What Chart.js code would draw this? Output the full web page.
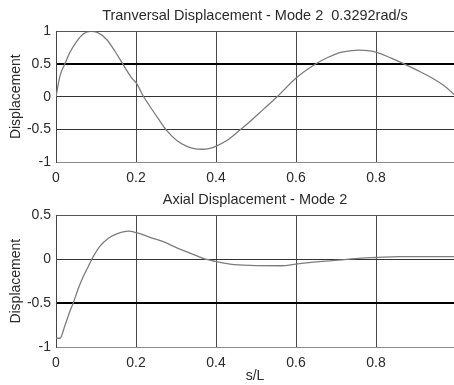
<!DOCTYPE html>
<html>
<head>
<meta charset="utf-8">
<script src="https://cdn.jsdelivr.net/npm/chart.js@4"></script>
<style>
  html, body { margin: 0; padding: 0; background: #fff; }
  #wrap { position: relative; width: 454px; height: 385px; overflow: hidden; }
  canvas { position: absolute; left: 0; }
  #top { top: 0; }
  #bottom { top: 184px; }
</style>
</head>
<body>
<div id="wrap">
  <canvas id="top" width="454" height="184"></canvas>
  <canvas id="bottom" width="454" height="201"></canvas>
</div>
<script>
// Mode shape samples along the member (s/L) and their displacements
const transS = [0, 0.01, 0.022, 0.034, 0.051, 0.068, 0.087, 0.103, 0.126, 0.147, 0.168, 0.189, 0.203,
  0.218, 0.235, 0.256, 0.277, 0.302, 0.327, 0.345, 0.365, 0.385, 0.399, 0.427, 0.46, 0.485, 0.519, 0.553,
  0.601, 0.649, 0.679, 0.712, 0.74, 0.758, 0.78, 0.802, 0.838, 0.871, 0.905, 0.939, 0.972, 0.995];
const transDisp = [0, 0.32, 0.50, 0.67, 0.84, 0.96, 1.0, 0.985, 0.88, 0.70, 0.49, 0.29, 0.19,
  0.01, -0.15, -0.34, -0.52, -0.67, -0.76, -0.795, -0.805, -0.79, -0.76, -0.67, -0.51, -0.38, -0.19, 0.0,
  0.29, 0.50, 0.60, 0.68, 0.705, 0.712, 0.705, 0.68, 0.59, 0.50, 0.40, 0.29, 0.16, 0.035];

const axialS = [0, 0.01, 0.022, 0.035, 0.043, 0.056, 0.068, 0.081, 0.093, 0.11, 0.131, 0.152, 0.181,
  0.203, 0.235, 0.268, 0.302, 0.335, 0.368, 0.399, 0.435, 0.485, 0.564, 0.60, 0.652, 0.706, 0.764,
  0.80, 0.856, 0.995];
const axialDisp = [-0.90, -0.90, -0.76, -0.59, -0.50, -0.33, -0.20, -0.08, 0.03, 0.15, 0.24, 0.29, 0.32,
  0.30, 0.25, 0.20, 0.13, 0.07, 0.01, -0.025, -0.055, -0.07, -0.074, -0.055, -0.03, -0.01, 0.013,
  0.02, 0.03, 0.03];

const xTicks = [0, 0.2, 0.4, 0.6, 0.8];
const transYTicks = [-1, -0.5, 0, 0.5, 1];
const axialYTicks = [-1, -0.5, 0, 0.5];

const transTitle = 'Tranversal Displacement - Mode 2  0.3292rad/s';
const axialTitle = 'Axial Displacement - Mode 2';
const yTitle = 'Displacement';
const xTitle = 's/L';

const FONT = "'Liberation Sans', Arial, sans-serif";
const TEXT = '#2a2a2a';

function makePlot(canvas, s, d, yTicks, heavyValue, title, showXTitle, xAxisHeight) {
  const yMin = yTicks[0], yMax = yTicks[yTicks.length - 1];
  return new Chart(canvas, {
    type: 'line',
    data: {
      datasets: [{
        data: s.map((x, i) => ({ x: x, y: d[i] })),
        borderColor: '#7c7c7c',
        borderWidth: 1.3,
        pointRadius: 0,
        cubicInterpolationMode: 'monotone',
        fill: false
      }]
    },
    options: {
      responsive: false,
      animation: false,
      events: [],
      layout: { padding: { left: 0, right: 0, top: 0, bottom: 0 } },
      plugins: {
        legend: { display: false },
        tooltip: { enabled: false },
        title: {
          display: true,
          text: title,
          fullSize: false,
          color: TEXT,
          font: { family: FONT, size: 14.5, weight: 'normal', lineHeight: 1.2 },
          padding: { top: 7, bottom: 7 }
        }
      },
      scales: {
        x: {
          type: 'linear',
          min: 0,
          max: 0.995,
          afterBuildTicks: sc => { sc.ticks = xTicks.map(v => ({ value: v })); },
          afterFit: sc => { sc.height = xAxisHeight; },
          ticks: {
            color: TEXT,
            font: { family: FONT, size: 14 },
            padding: 8,
            maxRotation: 0,
            callback: v => String(v)
          },
          grid: {
            drawTicks: false,
            color: ctx => ctx.tick && ctx.tick.value === 0 ? '#333' : '#4a4a4a',
            lineWidth: 1
          },
          border: { display: false },
          title: {
            display: showXTitle,
            text: xTitle,
            color: TEXT,
            font: { family: FONT, size: 14 },
            padding: { top: 0, bottom: 0 }
          }
        },
        y: {
          type: 'linear',
          min: yMin,
          max: yMax,
          afterBuildTicks: sc => { sc.ticks = yTicks.map(v => ({ value: v })); },
          afterFit: sc => { sc.width = 56; },
          ticks: {
            color: TEXT,
            font: { family: FONT, size: 14 },
            padding: 5,
            callback: v => String(v)
          },
          grid: {
            drawTicks: false,
            color: ctx => {
              const v = ctx.tick && ctx.tick.value;
              if (v === heavyValue) return '#000';
              if (v === yMin) return '#8a8a8a';
              if (v === yMax) return '#555';
              return '#333';
            },
            lineWidth: ctx => (ctx.tick && ctx.tick.value === heavyValue) ? 2 : 1
          },
          border: { display: true, color: '#444', width: 1 },
          title: {
            display: true,
            text: yTitle,
            color: TEXT,
            font: { family: FONT, size: 14 },
            padding: { top: 8, bottom: 0 }
          }
        }
      }
    }
  });
}

makePlot(document.getElementById('top'), transS, transDisp, transYTicks, 0.5, transTitle, false, 22);
makePlot(document.getElementById('bottom'), axialS, axialDisp, axialYTicks, -0.5, axialTitle, true, 38);
</script>
</body>
</html>
